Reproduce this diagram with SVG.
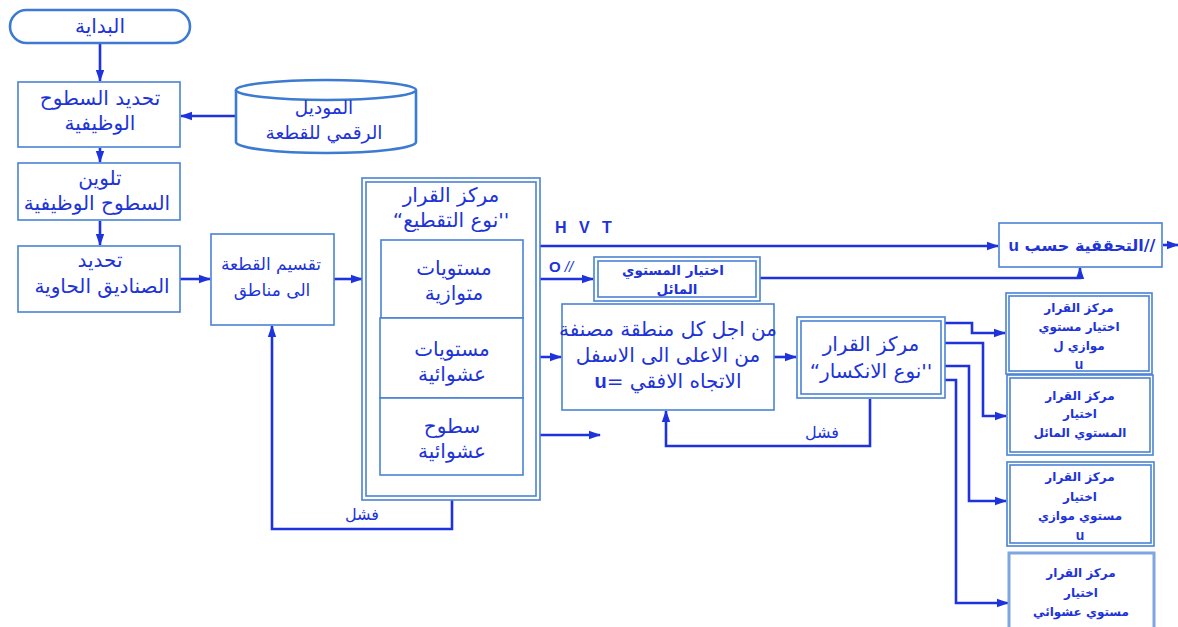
<svg xmlns="http://www.w3.org/2000/svg" width="1178" height="627" viewBox="0 0 1178 627">
<defs>
<marker id="ah" markerUnits="userSpaceOnUse" markerWidth="12" markerHeight="10" refX="11" refY="5" orient="auto">
<path d="M0,0.8 L12,5 L0,9.2 Z" fill="#1f33dc"/>
</marker>
<style>
.box{fill:#fff;stroke:#4a82d4;stroke-width:1.6}
.thick{fill:#fff;stroke:#3d7ad2;stroke-width:2.6}
.con{fill:none;stroke:#1f33dc;stroke-width:2.6}
.t{font-family:"DejaVu Sans",sans-serif;font-size:20px;fill:#2033d8;text-anchor:middle;direction:rtl}
.m{font-size:18.5px}
.z{font-size:17px}
.f{font-size:16px}
.s{font-family:"DejaVu Sans",sans-serif;font-size:12px;font-weight:bold;fill:#2033d8;text-anchor:middle;direction:rtl}
.si{font-size:13.5px}
.u{font-family:"Liberation Sans",sans-serif;font-size:14px}
.l{font-family:"Liberation Sans",sans-serif;font-size:15px;font-weight:bold;fill:#2033d8}
</style>
</defs>
<rect width="1178" height="627" fill="#fff"/>

<g id="connectors">
<path class="con" d="M100,43 V81" marker-end="url(#ah)"/>
<path class="con" d="M236,116 H181" marker-end="url(#ah)"/>
<path class="con" d="M100,148 V162" marker-end="url(#ah)"/>
<path class="con" d="M100,221 V245" marker-end="url(#ah)"/>
<path class="con" d="M180,279 H210" marker-end="url(#ah)"/>
<path class="con" d="M334,279 H362" marker-end="url(#ah)"/>
<path class="con" d="M452,500 V529 H272 V326" marker-end="url(#ah)"/>
<path class="con" d="M523,246 H998" marker-end="url(#ah)"/>
<path class="con" d="M1163,245 H1178" marker-end="url(#ah)"/>
<path class="con" d="M523,279 H593" marker-end="url(#ah)"/>
<path class="con" d="M760,278 H1080 V268" marker-end="url(#ah)"/>
<path class="con" d="M523,357 H561" marker-end="url(#ah)"/>
<path class="con" d="M523,435 H600" marker-end="url(#ah)"/>
<path class="con" d="M774,357 H796" marker-end="url(#ah)"/>
<path class="con" d="M870,399 V446 H666 V411" marker-end="url(#ah)"/>
<path class="con" d="M945,323 H972 V333 H1005" marker-end="url(#ah)"/>
<path class="con" d="M945,343 H983 V416 H1006" marker-end="url(#ah)"/>
<path class="con" d="M945,366 H969 V501 H1006" marker-end="url(#ah)"/>
<path class="con" d="M945,380 H956 V603 H1008" marker-end="url(#ah)"/>
<text class="l" x="555" y="233" style="font-size:16px" letter-spacing="4">H V T</text>
<text class="l" x="549" y="272">O <tspan style="font-style:italic;font-weight:normal">//</tspan></text>
<text class="t f" x="362" y="520">فشل</text>
<text class="t f" x="822" y="438">فشل</text>
</g>

<g id="start">
<rect x="10" y="10" width="180" height="33" rx="16.5" class="thick"/>
<text class="t" x="100" y="33">البداية</text>
</g>

<g id="define-surfaces">
<rect x="18" y="82" width="162" height="65" class="box"/>
<text class="t" x="100" y="105">تحديد السطوح</text>
<text class="t" x="100" y="130">الوظيفية</text>
</g>

<g id="digital-model">
<path class="thick" d="M236,90 V142 A90,11 0 0 0 416,142 V90"/>
<ellipse cx="326" cy="90" rx="90" ry="10" class="thick"/>
<text class="t m" x="324" y="114">الموديل</text>
<text class="t m" x="324" y="139">الرقمي للقطعة</text>
</g>

<g id="coloring">
<rect x="18" y="163" width="162" height="57" class="box"/>
<text class="t" x="100" y="185">تلوين</text>
<text class="t" x="97" y="210">السطوح الوظيفية</text>
</g>

<g id="bounding-boxes">
<rect x="18" y="246" width="162" height="66" class="box"/>
<text class="t" x="100" y="267">تحديد</text>
<text class="t" x="102" y="293">الصناديق الحاوية</text>
</g>

<g id="split-zones">
<rect x="211" y="234" width="123" height="91" class="box"/>
<text class="t z" x="271" y="270">تقسيم القطعة</text>
<text class="t z" x="272" y="296">الى مناطق</text>
</g>

<g id="decision-cut">
<rect x="362" y="178" width="178" height="322" class="box"/>
<rect x="366" y="182" width="170" height="314" class="box"/>
<text class="t" x="451" y="202">مركز القرار</text>
<text class="t" x="451" y="227">''نوع التقطيع“</text>
<rect x="381" y="240" width="142" height="78" class="box"/>
<text class="t" x="454" y="275">مستويات</text>
<text class="t" x="454" y="300">متوازية</text>
<rect x="380" y="318" width="143" height="80" class="box"/>
<text class="t" x="452" y="356">مستويات</text>
<text class="t" x="452" y="381">عشوائية</text>
<rect x="380" y="398" width="143" height="77" class="box"/>
<text class="t" x="452" y="433">سطوح</text>
<text class="t" x="452" y="458">عشوائية</text>
</g>

<g id="verify-u">
<rect x="999" y="223" width="163" height="44" class="box"/>
<text class="t f" x="1082" y="251" style="font-weight:bold">//التحققية حسب <tspan class="u" style="font-size:17px">u</tspan></text>
</g>

<g id="inclined-plane">
<rect x="594" y="257" width="166" height="44" class="box"/>
<rect x="598" y="261" width="158" height="36" class="box"/>
<text class="s si" x="673" y="275">اختيار المستوي</text>
<text class="s si" x="677" y="294">المائل</text>
</g>

<g id="each-zone">
<rect x="562" y="304" width="212" height="106" class="box"/>
<text class="t" x="668" y="336">من اجل كل منطقة مصنفة</text>
<text class="t" x="668" y="362">من الاعلى الى الاسفل</text>
<text class="t" x="668" y="388">الاتجاه الافقي =<tspan style="font-weight:bold;font-family:'Liberation Sans'">u</tspan></text>
</g>

<g id="decision-break">
<rect x="797" y="317" width="148" height="81" class="box"/>
<rect x="801" y="321" width="140" height="73" class="box"/>
<text class="t" x="871" y="351">مركز القرار</text>
<text class="t" x="871" y="378">''نوع الانكسار“</text>
</g>

<g id="r1">
<rect x="1006" y="293" width="146" height="81" class="box"/>
<rect x="1009" y="296" width="140" height="75" class="box"/>
<text class="s" x="1079" y="312">مركز القرار</text>
<text class="s" x="1079" y="331">اختيار مستوي</text>
<text class="s" x="1079" y="350">موازي ل</text>
<text class="s u" x="1079" y="369">u</text>
</g>

<g id="r2">
<rect x="1007" y="375" width="146" height="80" class="box"/>
<rect x="1010" y="378" width="140" height="74" class="box"/>
<text class="s" x="1080" y="400">مركز القرار</text>
<text class="s" x="1080" y="418">اختيار</text>
<text class="s" x="1080" y="437">المستوي المائل</text>
</g>

<g id="r3">
<rect x="1007" y="462" width="147" height="84" class="box"/>
<rect x="1010" y="465" width="141" height="78" class="box"/>
<text class="s" x="1080" y="481">مركز القرار</text>
<text class="s" x="1080" y="501">اختيار</text>
<text class="s" x="1080" y="520">مستوي موازي</text>
<text class="s u" x="1080" y="540">u</text>
</g>

<g id="r4">
<rect x="1009" y="553" width="145" height="80" fill="#fff" stroke="#7fa6e0" stroke-width="3"/>
<text class="s" x="1081" y="577">مركز القرار</text>
<text class="s" x="1081" y="597">اختيار</text>
<text class="s" x="1081" y="616">مستوي عشوائي</text>
</g>
</svg>
